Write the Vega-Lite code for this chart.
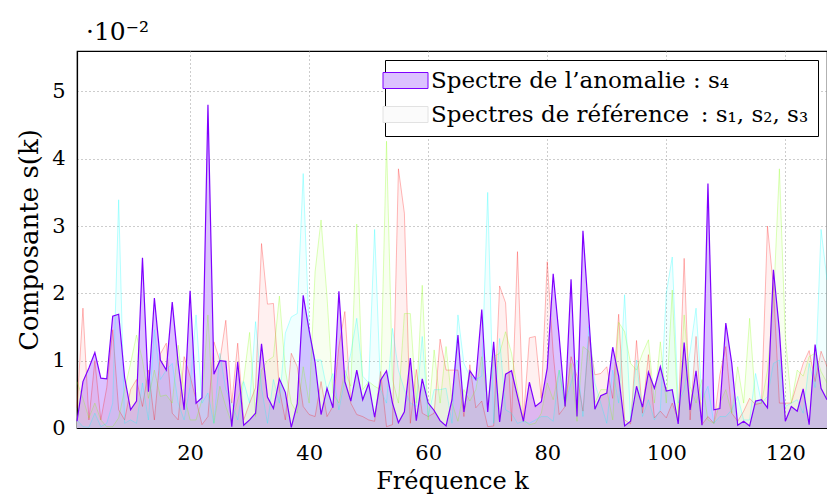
{
  "$schema": "https://vega.github.io/schema/vega-lite/v6.json",
  "width": 750,
  "height": 377,
  "autosize": {"type": "none"},
  "padding": {"left": 77, "top": 51, "right": 0, "bottom": 67},
  "background": "white",
  "title": {"text": "·10⁻²", "anchor": "start", "frame": "group", "offset": 6, "fontSize": 25, "font": "DejaVu Serif", "fontWeight": "normal", "dx": 9, "color": "black"},
  "config": {
    "font": "DejaVu Serif",
    "view": {"stroke": "black", "strokeWidth": 1.2},
    "axis": {
      "labelFont": "DejaVu Serif", "labelFontSize": 21, "labelColor": "black",
      "titleFont": "DejaVu Serif", "titleFontSize": 24, "titleFontWeight": "normal", "titleColor": "black",
      "domain": true, "domainColor": "black", "domainWidth": 1.2,
      "ticks": false, "grid": true, "gridColor": "#9a9a9a", "gridDash": [1, 3], "gridWidth": 1
    }
  },
  "data": {"values": [
    {"k":1,"s1":0.3,"s2":0.69,"s3":0.12,"s4":0.1},
    {"k":2,"s1":1.78,"s2":0.44,"s3":0.02,"s4":0.69},
    {"k":3,"s1":0.12,"s2":0.15,"s3":0.01,"s4":0.89},
    {"k":4,"s1":1.0,"s2":0.37,"s3":0.22,"s4":1.12},
    {"k":5,"s1":0.12,"s2":0.12,"s3":0.02,"s4":0.74},
    {"k":6,"s1":0.6,"s2":0.02,"s3":0.07,"s4":0.73},
    {"k":7,"s1":1.46,"s2":0.02,"s3":0.37,"s4":1.66},
    {"k":8,"s1":0.27,"s2":0.15,"s3":3.39,"s4":1.69},
    {"k":9,"s1":0.12,"s2":0.57,"s3":0.07,"s4":0.75},
    {"k":10,"s1":0.57,"s2":0.96,"s3":0.12,"s4":0.27},
    {"k":11,"s1":0.72,"s2":1.38,"s3":0.07,"s4":0.4},
    {"k":12,"s1":0.32,"s2":1.01,"s3":0.67,"s4":2.53},
    {"k":13,"s1":0.86,"s2":0.44,"s3":0.12,"s4":0.54},
    {"k":14,"s1":0.12,"s2":0.86,"s3":1.46,"s4":1.93},
    {"k":15,"s1":1.1,"s2":0.47,"s3":0.72,"s4":1.01},
    {"k":16,"s1":1.26,"s2":0.49,"s3":0.86,"s4":0.86},
    {"k":17,"s1":0.22,"s2":0.37,"s3":0.96,"s4":1.87},
    {"k":18,"s1":0.12,"s2":1.23,"s3":0.37,"s4":0.96},
    {"k":19,"s1":1.06,"s2":0.49,"s3":0.12,"s4":0.27},
    {"k":20,"s1":0.77,"s2":0.12,"s3":0.62,"s4":2.04},
    {"k":21,"s1":0.42,"s2":0.12,"s3":1.68,"s4":0.37},
    {"k":22,"s1":0.05,"s2":0.42,"s3":0.37,"s4":0.45},
    {"k":23,"s1":0.17,"s2":1.68,"s3":0.52,"s4":4.8},
    {"k":24,"s1":1.28,"s2":0.07,"s3":0.07,"s4":0.8},
    {"k":25,"s1":1.0,"s2":0.62,"s3":1.11,"s4":1.0},
    {"k":26,"s1":1.6,"s2":0.32,"s3":0.57,"s4":0.99},
    {"k":27,"s1":0.37,"s2":0.07,"s3":0.37,"s4":0.02},
    {"k":28,"s1":1.26,"s2":0.42,"s3":0.12,"s4":0.98},
    {"k":29,"s1":0.12,"s2":0.72,"s3":0.69,"s4":0.04},
    {"k":30,"s1":0.37,"s2":1.42,"s3":0.37,"s4":0.12},
    {"k":31,"s1":0.6,"s2":0.17,"s3":1.58,"s4":0.22},
    {"k":32,"s1":2.74,"s2":0.86,"s3":0.6,"s4":1.25},
    {"k":33,"s1":1.84,"s2":1.0,"s3":0.07,"s4":0.46},
    {"k":34,"s1":1.85,"s2":1.06,"s3":0.72,"s4":0.29},
    {"k":35,"s1":0.57,"s2":1.96,"s3":0.37,"s4":0.73},
    {"k":36,"s1":0.12,"s2":0.86,"s3":1.41,"s4":0.53},
    {"k":37,"s1":1.11,"s2":0.37,"s3":1.65,"s4":0.01},
    {"k":38,"s1":0.91,"s2":0.22,"s3":1.7,"s4":0.36},
    {"k":39,"s1":0.32,"s2":0.91,"s3":3.78,"s4":1.97},
    {"k":40,"s1":0.2,"s2":0.37,"s3":1.41,"s4":1.45},
    {"k":41,"s1":0.17,"s2":2.32,"s3":1.01,"s4":0.97},
    {"k":42,"s1":0.69,"s2":3.09,"s3":1.01,"s4":0.2},
    {"k":43,"s1":0.17,"s2":1.95,"s3":0.57,"s4":0.59},
    {"k":44,"s1":0.32,"s2":0.52,"s3":0.81,"s4":0.3},
    {"k":45,"s1":1.21,"s2":0.37,"s3":0.27,"s4":2.03},
    {"k":46,"s1":1.73,"s2":0.86,"s3":0.72,"s4":0.69},
    {"k":47,"s1":0.37,"s2":0.62,"s3":1.11,"s4":0.4},
    {"k":48,"s1":0.2,"s2":3.03,"s3":1.63,"s4":0.86},
    {"k":49,"s1":0.17,"s2":0.57,"s3":0.77,"s4":0.42},
    {"k":50,"s1":0.12,"s2":0.69,"s3":0.67,"s4":0.66},
    {"k":51,"s1":0.1,"s2":0.62,"s3":2.95,"s4":0.16},
    {"k":52,"s1":0.84,"s2":0.57,"s3":0.57,"s4":0.71},
    {"k":53,"s1":0.02,"s2":4.26,"s3":0.37,"s4":0.85},
    {"k":54,"s1":0.05,"s2":0.72,"s3":1.48,"s4":0.37},
    {"k":55,"s1":3.85,"s2":0.37,"s3":0.86,"s4":0.08},
    {"k":56,"s1":3.19,"s2":1.7,"s3":0.57,"s4":0.24},
    {"k":57,"s1":0.07,"s2":1.7,"s3":0.37,"s4":1.04},
    {"k":58,"s1":0.87,"s2":0.37,"s3":0.32,"s4":0.11},
    {"k":59,"s1":0.22,"s2":2.12,"s3":1.36,"s4":0.73},
    {"k":60,"s1":0.17,"s2":0.12,"s3":0.17,"s4":0.37},
    {"k":61,"s1":0.22,"s2":1.16,"s3":0.57,"s4":0.26},
    {"k":62,"s1":1.32,"s2":0.37,"s3":0.57,"s4":0.11},
    {"k":63,"s1":0.86,"s2":1.21,"s3":0.59,"s4":0.03},
    {"k":64,"s1":0.86,"s2":0.37,"s3":0.07,"s4":0.42},
    {"k":65,"s1":0.86,"s2":0.1,"s3":1.68,"s4":1.38},
    {"k":66,"s1":0.17,"s2":0.57,"s3":0.96,"s4":0.24},
    {"k":67,"s1":0.94,"s2":0.4,"s3":0.77,"s4":0.85},
    {"k":68,"s1":0.3,"s2":0.57,"s3":0.72,"s4":0.72},
    {"k":69,"s1":0.4,"s2":1.06,"s3":0.77,"s4":1.76},
    {"k":70,"s1":0.02,"s2":0.37,"s3":3.5,"s4":0.24},
    {"k":71,"s1":0.03,"s2":1.06,"s3":0.07,"s4":1.28},
    {"k":72,"s1":2.11,"s2":1.11,"s3":1.33,"s4":0.09},
    {"k":73,"s1":1.86,"s2":1.43,"s3":0.27,"s4":0.8},
    {"k":74,"s1":0.1,"s2":1.11,"s3":0.22,"s4":0.85},
    {"k":75,"s1":2.62,"s2":0.57,"s3":0.07,"s4":0.47},
    {"k":76,"s1":0.12,"s2":0.12,"s3":0.1,"s4":0.1},
    {"k":77,"s1":1.34,"s2":0.05,"s3":0.07,"s4":0.68},
    {"k":78,"s1":1.36,"s2":0.07,"s3":0.12,"s4":0.32},
    {"k":79,"s1":0.44,"s2":0.22,"s3":0.17,"s4":0.39},
    {"k":80,"s1":2.47,"s2":0.67,"s3":0.17,"s4":0.89},
    {"k":81,"s1":1.11,"s2":0.42,"s3":0.1,"s4":2.29},
    {"k":82,"s1":0.2,"s2":0.86,"s3":0.86,"s4":1.36},
    {"k":83,"s1":0.32,"s2":0.32,"s3":0.37,"s4":0.32},
    {"k":84,"s1":1.06,"s2":0.96,"s3":0.67,"s4":2.21},
    {"k":85,"s1":0.77,"s2":0.1,"s3":1.01,"s4":0.17},
    {"k":86,"s1":0.25,"s2":1.21,"s3":0.17,"s4":2.93},
    {"k":87,"s1":1.36,"s2":1.14,"s3":1.51,"s4":1.63},
    {"k":88,"s1":0.79,"s2":0.37,"s3":0.67,"s4":0.28},
    {"k":89,"s1":0.81,"s2":0.57,"s3":0.37,"s4":0.48},
    {"k":90,"s1":0.91,"s2":0.57,"s3":0.07,"s4":0.52},
    {"k":91,"s1":0.44,"s2":0.12,"s3":0.86,"s4":1.2},
    {"k":92,"s1":1.69,"s2":1.57,"s3":0.37,"s4":0.77},
    {"k":93,"s1":0.12,"s2":1.43,"s3":1.98,"s4":0.03},
    {"k":94,"s1":0.06,"s2":0.96,"s3":0.12,"s4":0.1},
    {"k":95,"s1":1.3,"s2":0.86,"s3":1.01,"s4":0.62},
    {"k":96,"s1":0.22,"s2":1.11,"s3":0.17,"s4":0.31},
    {"k":97,"s1":1.09,"s2":1.31,"s3":0.42,"s4":0.83},
    {"k":98,"s1":0.15,"s2":0.37,"s3":0.12,"s4":0.59},
    {"k":99,"s1":0.25,"s2":1.28,"s3":0.27,"s4":0.91},
    {"k":100,"s1":0.15,"s2":0.37,"s3":2.0,"s4":0.55},
    {"k":101,"s1":0.37,"s2":2.05,"s3":2.54,"s4":0.57},
    {"k":102,"s1":0.12,"s2":0.12,"s3":0.37,"s4":0.06},
    {"k":103,"s1":2.52,"s2":1.68,"s3":0.57,"s4":1.27},
    {"k":104,"s1":0.12,"s2":0.62,"s3":1.14,"s4":0.27},
    {"k":105,"s1":1.36,"s2":0.37,"s3":1.78,"s4":0.85},
    {"k":106,"s1":0.05,"s2":0.72,"s3":0.42,"s4":0.04},
    {"k":107,"s1":0.17,"s2":0.12,"s3":0.62,"s4":3.63},
    {"k":108,"s1":0.07,"s2":0.07,"s3":0.07,"s4":0.27},
    {"k":109,"s1":0.79,"s2":0.37,"s3":0.17,"s4":0.29},
    {"k":110,"s1":1.21,"s2":0.57,"s3":0.17,"s4":1.56},
    {"k":111,"s1":0.22,"s2":0.22,"s3":0.27,"s4":0.96},
    {"k":112,"s1":0.1,"s2":0.91,"s3":0.47,"s4":0.04},
    {"k":113,"s1":0.25,"s2":0.37,"s3":0.12,"s4":0.1},
    {"k":114,"s1":0.44,"s2":1.63,"s3":0.12,"s4":0.03},
    {"k":115,"s1":0.35,"s2":0.37,"s3":0.81,"s4":0.4},
    {"k":116,"s1":0.37,"s2":0.37,"s3":0.37,"s4":0.42},
    {"k":117,"s1":3.0,"s2":0.86,"s3":0.47,"s4":0.3},
    {"k":118,"s1":2.1,"s2":1.85,"s3":0.96,"s4":2.35},
    {"k":119,"s1":0.37,"s2":3.85,"s3":1.01,"s4":1.45},
    {"k":120,"s1":0.37,"s2":1.36,"s3":0.32,"s4":0.1},
    {"k":121,"s1":0.37,"s2":0.37,"s3":0.37,"s4":0.32},
    {"k":122,"s1":0.67,"s2":0.86,"s3":0.42,"s4":0.25},
    {"k":123,"s1":0.96,"s2":0.77,"s3":0.22,"s4":0.58},
    {"k":124,"s1":1.15,"s2":1.06,"s3":0.96,"s4":0.05},
    {"k":125,"s1":0.69,"s2":1.11,"s3":0.6,"s4":1.24},
    {"k":126,"s1":1.14,"s2":0.84,"s3":2.95,"s4":0.59},
    {"k":127,"s1":0.91,"s2":0.67,"s3":2.2,"s4":0.42}
  ]},
  "transform": [{"fold": ["s1", "s2", "s3", "s4"], "as": ["serie", "s"]}],
  "encoding": {
    "x": {"field": "k", "type": "quantitative", "scale": {"domain": [1, 127], "nice": false, "zero": false},
      "axis": {"values": [20, 40, 60, 80, 100, 120], "title": "Fréquence k", "labelPadding": 14, "titlePadding": 6}},
    "y": {"field": "s", "type": "quantitative", "stack": null, "scale": {"domain": [0, 5.6], "nice": false},
      "axis": {"values": [0, 1, 2, 3, 4, 5], "title": "Composante s(k)", "titleFontSize": 26, "labelPadding": 12, "titlePadding": 9}}
  },
  "layer": [
    {
      "transform": [{"filter": "datum.serie == 's4'"}],
      "mark": {"type": "area", "fillOpacity": 1},
      "encoding": {
        "fill": {"field": "serie", "type": "nominal",
          "scale": {"domain": ["s4", "ref"], "range": ["#dcc2ff", "#fbfbfb"]},
          "legend": {
            "orient": "top-right", "offset": 9, "title": null,
            "labelExpr": "datum.value == 's4' ? 'Spectre de l’anomalie : s₄' : 'Spectres de référence\u2002: s₁, s₂, s₃'",
            "symbolType": "M-2.8125,-1L2.8125,-1L2.8125,1L-2.8125,1Z",
            "symbolSize": 256, "symbolOffset": 0, "symbolStrokeWidth": 1,
            "labelFont": "DejaVu Serif", "labelFontSize": 23, "labelColor": "black", "labelLimit": 600, "labelOffset": 14,
            "strokeColor": "black", "fillColor": "white", "padding": 9, "rowPadding": 10, "cornerRadius": 0
          }
        }
      }
    },
    {
      "transform": [{"filter": "datum.serie != 's4'"}],
      "mark": {"type": "area", "fillOpacity": 0.06},
      "encoding": {
        "color": {"field": "serie", "type": "nominal",
          "scale": {"domain": ["s1", "s2", "s3"], "range": ["#ff0000", "#80ff00", "#00ffff"]},
          "legend": null}
      }
    },
    {
      "transform": [{"filter": "datum.serie != 's4'"}],
      "mark": {"type": "line", "strokeOpacity": 0.28, "strokeWidth": 1},
      "encoding": {
        "color": {"field": "serie", "type": "nominal",
          "scale": {"domain": ["s1", "s2", "s3"], "range": ["#ff0000", "#80ff00", "#00ffff"]},
          "legend": null}
      }
    },
    {
      "transform": [{"filter": "datum.serie == 's4'"}],
      "mark": {"type": "line", "strokeWidth": 1.2},
      "encoding": {
        "stroke": {"field": "serie", "type": "nominal",
          "scale": {"domain": ["s4", "ref"], "range": ["#7f00ff", "#e2e2e2"]},
          "legend": {
            "orient": "top-right", "offset": 9, "title": null,
            "labelExpr": "datum.value == 's4' ? 'Spectre de l’anomalie : s₄' : 'Spectres de référence\u2002: s₁, s₂, s₃'",
            "symbolType": "M-2.8125,-1L2.8125,-1L2.8125,1L-2.8125,1Z",
            "symbolSize": 256, "symbolOffset": 0, "symbolStrokeWidth": 1,
            "labelFont": "DejaVu Serif", "labelFontSize": 23, "labelColor": "black", "labelLimit": 600, "labelOffset": 14,
            "strokeColor": "black", "fillColor": "white", "padding": 9, "rowPadding": 10, "cornerRadius": 0
          }
        }
      }
    }
  ]
}
